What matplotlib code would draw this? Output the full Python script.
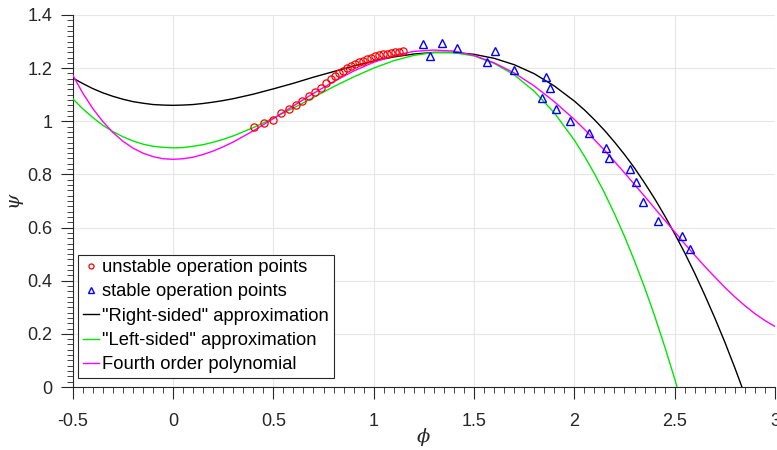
import matplotlib
matplotlib.use("Agg")
import matplotlib.pyplot as plt

# operating points
unstable_phi = [0.405, 0.452, 0.497, 0.538, 0.576, 0.613, 0.645, 0.679, 0.709, 0.737,
                0.762, 0.785, 0.806, 0.826, 0.846, 0.866, 0.886, 0.906, 0.926, 0.946,
                0.966, 0.986, 1.006, 1.026, 1.046, 1.066, 1.086, 1.106, 1.126, 1.146]
unstable_psi = [0.977, 0.993, 1.006, 1.030, 1.046, 1.063, 1.078, 1.094, 1.110, 1.127,
                1.143, 1.158, 1.170, 1.181, 1.191, 1.200, 1.208, 1.215, 1.222, 1.228,
                1.234, 1.239, 1.244, 1.248, 1.252, 1.255, 1.258, 1.260, 1.262, 1.263]

stable_phi = [1.246, 1.283, 1.341, 1.416, 1.565, 1.605, 1.701, 1.839, 1.857, 1.877,
              1.911, 1.976, 2.072, 2.160, 2.173, 2.276, 2.305, 2.340, 2.416, 2.535, 2.575]
stable_psi = [1.291, 1.247, 1.294, 1.277, 1.222, 1.266, 1.193, 1.087, 1.166, 1.127,
              1.045, 1.001, 0.955, 0.901, 0.863, 0.820, 0.770, 0.697, 0.626, 0.569, 0.519]

# curves (finer steps where they bend)
curve_phi = [-0.5, -0.45, -0.4, -0.35, -0.3, -0.25, -0.2, -0.15, -0.1, -0.05, 0.0,
             0.05, 0.1, 0.15, 0.2, 0.25, 0.3,
             0.4, 0.5, 0.6, 0.7, 0.8, 0.9, 1.0, 1.1, 1.2, 1.3, 1.4, 1.5, 1.6, 1.7, 1.8,
             1.9, 2.0,
             2.05, 2.1, 2.15, 2.2, 2.25, 2.3, 2.35, 2.4, 2.45, 2.5, 2.55, 2.6, 2.65, 2.7,
             2.75, 2.8, 2.85, 2.9, 2.95, 3.0]
right_psi = [1.163, 1.142, 1.123, 1.107, 1.094, 1.083, 1.074, 1.068, 1.063, 1.061, 1.060,
             1.061, 1.063, 1.067, 1.072, 1.078, 1.085,
             1.102, 1.122, 1.143, 1.166, 1.187, 1.208, 1.227, 1.242, 1.253, 1.259, 1.259,
             1.252, 1.237, 1.213, 1.179, 1.133, 1.076,
             1.043, 1.006, 0.966, 0.922, 0.875, 0.824, 0.768, 0.709, 0.645, 0.577, 0.505,
             0.428, 0.346, 0.260, 0.169, 0.072, -0.030, -0.136, -0.249, -0.367]
left_psi = [1.085, 1.047, 1.014, 0.985, 0.961, 0.942, 0.926, 0.914, 0.906, 0.902, 0.900,
            0.901, 0.906, 0.912, 0.921, 0.932, 0.945,
            0.976, 1.012, 1.050, 1.090, 1.130, 1.167, 1.200, 1.228, 1.248, 1.259, 1.258,
            1.246, 1.218, 1.175, 1.113, 1.032, 0.929,
            0.869, 0.803, 0.731, 0.652, 0.567, 0.474, 0.375, 0.268, 0.153, 0.031, -0.099,
            -0.238, -0.384, -0.540, -0.705, -0.878, -1.061, -1.253, -1.456, -1.668]
poly_psi = [1.174, 1.106, 1.048, 0.999, 0.958, 0.925, 0.899, 0.880, 0.867, 0.859, 0.857,
            0.859, 0.865, 0.875, 0.888, 0.904, 0.922,
            0.964, 1.010, 1.058, 1.105, 1.149, 1.189, 1.222, 1.247, 1.263, 1.268, 1.264,
            1.248, 1.220, 1.182, 1.133, 1.074, 1.007,
            0.970, 0.931, 0.891, 0.849, 0.806, 0.762, 0.718, 0.673, 0.628, 0.584, 0.539,
            0.496, 0.454, 0.414, 0.375, 0.339, 0.306, 0.276, 0.250, 0.228]

xticks = [-0.5, 0, 0.5, 1, 1.5, 2, 2.5, 3]
xticklabels = ["-0.5", "0", "0.5", "1", "1.5", "2", "2.5", "3"]
yticks = [0, 0.2, 0.4, 0.6, 0.8, 1.0, 1.2, 1.4]
yticklabels = ["0", "0.2", "0.4", "0.6", "0.8", "1", "1.2", "1.4"]

plt.rcParams["font.family"] = ["Liberation Sans", "DejaVu Sans"]
plt.rcParams["mathtext.fontset"] = "dejavuserif"
axcol = "#262626"

fig = plt.figure(figsize=(7.77, 4.5), dpi=100)
ax = fig.add_axes([0.0936, 0.14, 0.9038, 0.8267])

ax.plot(unstable_phi, unstable_psi, "o", ls="none", mfc="none", mec="#ff0000",
        ms=5.2, mew=0.9, label="unstable operation points", zorder=4)
ax.plot(stable_phi, stable_psi, "^", ls="none", mfc="none", mec="#0000ff",
        ms=6, mew=1.0, label="stable operation points", zorder=4)
ax.plot(curve_phi, right_psi, "-", color="black", lw=1.0,
        label='"Right-sided" approximation', zorder=3)
ax.plot(curve_phi, left_psi, "-", color="#00e600", lw=1.0,
        label='"Left-sided" approximation', zorder=3)
ax.plot(curve_phi, poly_psi, "-", color="#ff00ff", lw=1.0,
        label="Fourth order polynomial", zorder=3)

ax.set_xlim(-0.5, 3)
ax.set_ylim(0, 1.4)
ax.set_xticks(xticks)
ax.set_xticklabels(xticklabels)
ax.set_yticks(yticks)
ax.set_yticklabels(yticklabels)
ax.set_xticks([-0.5 + 0.05 * i for i in range(71)], minor=True)
ax.set_yticks([0.02 * i for i in range(71)], minor=True)
ax.tick_params(which="major", direction="out", length=8.5, width=0.8, color=axcol,
               labelcolor=axcol, labelsize=13)
ax.tick_params(axis="x", which="major", pad=10)
ax.tick_params(axis="y", which="major", pad=6)
ax.tick_params(which="minor", direction="out", length=4, width=0.6, color=axcol)
ax.grid(True, which="major", color="#e6e6e6", lw=0.8)
ax.set_axisbelow(True)
for s in ("top", "right"):
    ax.spines[s].set_visible(False)
for s in ("left", "bottom"):
    ax.spines[s].set_color(axcol)
    ax.spines[s].set_linewidth(0.8)

ax.set_xlabel(r"$\phi$", fontsize=14, color=axcol)
ax.set_ylabel(r"$\psi$", fontsize=14, color=axcol)
ax.xaxis.set_label_coords(0.5, -0.104)
ax.yaxis.set_label_coords(-0.066, 0.5)

leg = ax.legend(loc="lower left", bbox_to_anchor=(0.008, 0.024), borderaxespad=0,
                fontsize=13.2, handlelength=0.9, handletextpad=0.15, labelspacing=0.4,
                borderpad=0.25, fancybox=False, framealpha=1, edgecolor=axcol,
                markerscale=0.7)
leg.get_frame().set_linewidth(0.8)

fig.savefig("out.png", dpi=100)
